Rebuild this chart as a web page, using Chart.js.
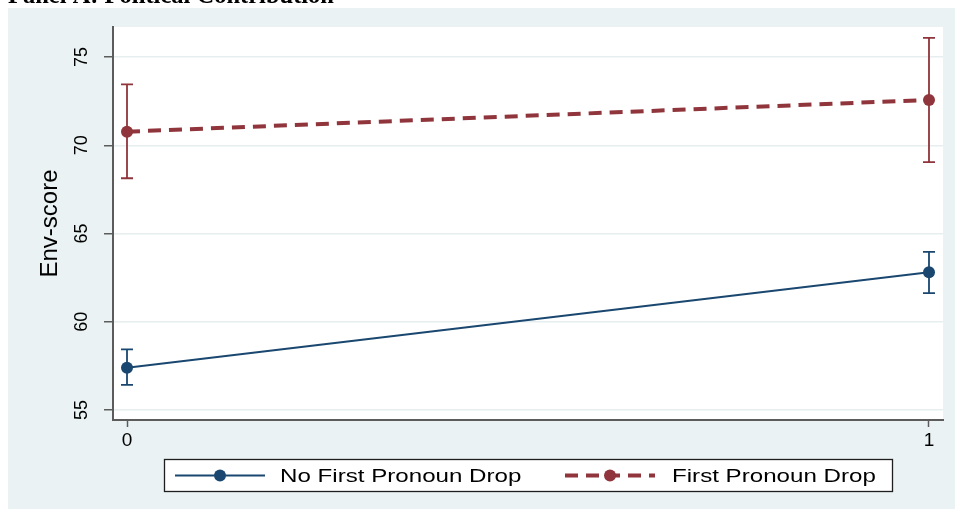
<!DOCTYPE html>
<html>
<head>
<meta charset="utf-8">
<script src="https://cdn.jsdelivr.net/npm/chart.js@4.4.1/dist/chart.umd.min.js"></script>
<style>
  html, body { margin: 0; padding: 0; background: #ffffff; }
  #wrap { position: relative; width: 955px; height: 509px; }
</style>
</head>
<body>
<div id="wrap"><canvas id="c" width="955" height="509"></canvas></div>
<script>
// Group positions on the x axis
const xValues = [0, 1];
const xTicks = [0, 1];
const yTicks = [55, 60, 65, 70, 75];

// Predicted Env-score with confidence intervals
const noDropMean = [57.40, 62.81];
const noDropLow  = [56.42, 61.62];
const noDropHigh = [58.44, 63.96];

const dropMean = [70.77, 72.57];
const dropLow  = [68.13, 69.04];
const dropHigh = [73.45, 76.08];

const seriesNames = ['No First Pronoun Drop', 'First Pronoun Drop'];
const panelTitle = 'Panel A: Political Contribution';
const yTitle = 'Env-score';

const NAVY = '#1a476f';
const MAROON = '#90353b';
const BG = '#eaf2f3';
const AXIS = '#5c5c5c';

const toPoints = arr => arr.map((v, i) => ({ x: xValues[i], y: v }));

const backgroundPlugin = {
  id: 'backgroundPlugin',
  beforeDraw(chart) {
    const { ctx, chartArea: a } = chart;
    ctx.save();
    ctx.fillStyle = '#ffffff';
    ctx.fillRect(0, 0, chart.width, chart.height);
    ctx.fillStyle = BG;
    ctx.fillRect(8, 8, chart.width - 8, chart.height - 8);
    ctx.fillStyle = '#ffffff';
    ctx.fillRect(a.left, a.top, a.right - a.left, a.bottom - a.top);
    // panel heading, running off the top edge
    ctx.fillStyle = '#000000';
    ctx.font = 'bold 24.5px "Liberation Serif", "Times New Roman", serif';
    ctx.textBaseline = 'alphabetic';
    ctx.textAlign = 'left';
    ctx.fillText(panelTitle, 8, 2.5);
    ctx.restore();
  }
};

const errorBarPlugin = {
  id: 'errorBarPlugin',
  beforeDatasetsDraw(chart) {
    const { ctx, scales: { x, y } } = chart;
    const sets = [
      { low: noDropLow, high: noDropHigh, color: NAVY },
      { low: dropLow, high: dropHigh, color: MAROON }
    ];
    ctx.save();
    ctx.lineWidth = 1.8;
    sets.forEach(s => {
      ctx.strokeStyle = s.color;
      xValues.forEach((xv, i) => {
        const px = x.getPixelForValue(xv);
        const lo = y.getPixelForValue(s.low[i]);
        const hi = y.getPixelForValue(s.high[i]);
        ctx.beginPath();
        ctx.moveTo(px, lo); ctx.lineTo(px, hi);
        ctx.moveTo(px - 6, lo); ctx.lineTo(px + 6, lo);
        ctx.moveTo(px - 6, hi); ctx.lineTo(px + 6, hi);
        ctx.stroke();
      });
    });
    ctx.restore();
  }
};

const legendPlugin = {
  id: 'legendPlugin',
  afterDraw(chart) {
    const { ctx } = chart;
    const box = { l: 164.5, t: 459.5, r: 892.5, b: 491.5 };
    const cy = (box.t + box.b) / 2;
    ctx.save();
    ctx.fillStyle = '#ffffff';
    ctx.fillRect(box.l, box.t, box.r - box.l, box.b - box.t);
    ctx.strokeStyle = '#1e1e1e';
    ctx.lineWidth = 1.3;
    ctx.strokeRect(box.l, box.t, box.r - box.l, box.b - box.t);

    const items = [
      { x0: 175, x1: 265, tx: 280, ds: chart.data.datasets[0] },
      { x0: 565, x1: 655, tx: 672, ds: chart.data.datasets[1] }
    ];
    items.forEach(it => {
      const ds = it.ds;
      ctx.strokeStyle = ds.borderColor;
      ctx.lineWidth = ds.borderWidth;
      ctx.setLineDash(ds.borderDash || []);
      ctx.beginPath();
      ctx.moveTo(it.x0, cy); ctx.lineTo(it.x1, cy);
      ctx.stroke();
      ctx.setLineDash([]);
      ctx.fillStyle = ds.pointBackgroundColor;
      ctx.beginPath();
      ctx.arc((it.x0 + it.x1) / 2, cy, ds.pointRadius, 0, Math.PI * 2);
      ctx.fill();
      ctx.save();
      ctx.translate(it.tx, cy);
      ctx.scale(1.27, 1);
      ctx.fillStyle = '#000000';
      ctx.font = '19px "Liberation Sans", Arial, sans-serif';
      ctx.textBaseline = 'middle';
      ctx.textAlign = 'left';
      ctx.fillText(ds.label, 0, 1);
      ctx.restore();
    });
    ctx.restore();
  }
};

new Chart(document.getElementById('c'), {
  type: 'line',
  data: {
    datasets: [
      {
        label: seriesNames[0],
        data: toPoints(noDropMean),
        borderColor: NAVY,
        backgroundColor: NAVY,
        pointBackgroundColor: NAVY,
        pointBorderColor: NAVY,
        borderWidth: 2,
        pointRadius: 6,
        pointBorderWidth: 0,
        tension: 0,
        fill: false
      },
      {
        label: seriesNames[1],
        data: toPoints(dropMean),
        borderColor: MAROON,
        backgroundColor: MAROON,
        pointBackgroundColor: MAROON,
        pointBorderColor: MAROON,
        borderWidth: 4,
        borderDash: [13, 8],
        pointRadius: 6,
        pointBorderWidth: 0,
        tension: 0,
        fill: false
      }
    ]
  },
  options: {
    responsive: false,
    animation: false,
    events: [],
    layout: { padding: { left: 0, top: 27, right: 12, bottom: 49 } },
    plugins: {
      legend: { display: false },
      tooltip: { enabled: false },
      title: { display: false }
    },
    scales: {
      x: {
        type: 'linear',
        min: -0.01746,
        max: 1.01746,
        afterBuildTicks: s => { s.ticks = xTicks.map(v => ({ value: v })); },
        afterFit: s => { s.height = 40; },
        grid: { drawOnChartArea: false, drawTicks: true, tickLength: 7, tickColor: AXIS, tickWidth: 1.5 },
        border: { display: true, color: AXIS, width: 2 },
        ticks: {
          color: '#000000',
          padding: 2,
          maxRotation: 0,
          minRotation: 0,
          font: { family: '"Liberation Sans", Arial, sans-serif', size: 19 }
        }
      },
      y: {
        type: 'linear',
        min: 54.433,
        max: 76.70,
        afterBuildTicks: s => { s.ticks = yTicks.map(v => ({ value: v })); },
        afterFit: s => { s.width = 113; },
        grid: { color: '#e6eef0', lineWidth: 1.5, drawTicks: true, tickLength: 9, tickColor: AXIS, tickWidth: 1.5 },
        border: { display: true, color: AXIS, width: 2 },
        ticks: {
          color: '#000000',
          padding: 12,
          minRotation: 90,
          maxRotation: 90,
          crossAlign: 'center',
          font: { family: '"Liberation Sans", Arial, sans-serif', size: 18 }
        },
        title: {
          display: true,
          text: yTitle,
          color: '#000000',
          padding: { top: 36, bottom: 0 },
          font: { family: '"Liberation Sans", Arial, sans-serif', size: 24 }
        }
      }
    }
  },
  plugins: [backgroundPlugin, errorBarPlugin, legendPlugin]
});
</script>
</body>
</html>
